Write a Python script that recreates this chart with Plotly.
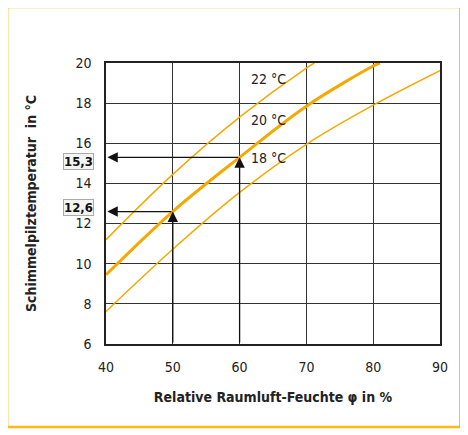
import plotly.graph_objects as go

# Relative Raumluft-Feuchte in %, Schimmelpilztemperatur in °C
feuchte_22 = [40, 50, 60, 70, 71.2]
temp_22 = [11.2, 14.45, 17.3, 19.75, 20.0]
feuchte_20 = [40, 50, 60, 70, 80, 81.0]
temp_20 = [9.45, 12.6, 15.3, 17.85, 19.85, 20.0]
feuchte_18 = [40, 50, 60, 70, 80, 90]
temp_18 = [7.62, 10.72, 13.55, 15.95, 17.9, 19.62]

kurven_namen = ["22 °C", "20 °C", "18 °C"]
kurven_label_y = [19.2, 17.17, 15.25]

beispiel_feuchte = [60, 50]
beispiel_temp = [15.3, 12.6]
beispiel_text = ["15,3", "12,6"]
beispiel_box_y = [15.08, 12.8]

x_ticks = [40, 50, 60, 70, 80, 90]
y_ticks = [6, 8, 10, 12, 14, 16, 18, 20]

orange = "#F6A800"
font_fam = "Liberation Sans Narrow, DejaVu Sans Condensed, sans-serif"

fig = go.Figure()
fig.add_trace(go.Scatter(x=feuchte_22, y=temp_22, mode="lines", line_shape="spline",
                         line=dict(color=orange, width=1.5)))
fig.add_trace(go.Scatter(x=feuchte_20, y=temp_20, mode="lines", line_shape="spline",
                         line=dict(color=orange, width=3)))
fig.add_trace(go.Scatter(x=feuchte_18, y=temp_18, mode="lines", line_shape="spline",
                         line=dict(color=orange, width=1.5)))

for name, yl in zip(kurven_namen, kurven_label_y):
    fig.add_annotation(x=61.4, y=yl, text=name, showarrow=False, xanchor="left",
                       font=dict(size=14, color="#222"))

for xf, yt, yb, txt in zip(beispiel_feuchte, beispiel_temp, beispiel_box_y, beispiel_text):
    # vertical arrow up from x axis
    fig.add_annotation(x=xf, y=yt, ax=xf, ay=6, xref="x", yref="y", axref="x", ayref="y",
                       text="", showarrow=True, arrowhead=2, arrowsize=1.6, arrowwidth=1.3,
                       arrowcolor="#111", standoff=0)
    # horizontal arrow left to y axis
    fig.add_annotation(x=40.2, y=yt, ax=xf, ay=yt, xref="x", yref="y", axref="x", ayref="y",
                       text="", showarrow=True, arrowhead=2, arrowsize=1.6, arrowwidth=1.3,
                       arrowcolor="#111", standoff=0)
    fig.add_annotation(x=-0.036, y=yb, xref="paper", yref="y", text="<b>" + txt + "</b>",
                       showarrow=False, xanchor="right", yanchor="middle",
                       bordercolor="#aaa", borderwidth=1, borderpad=0, bgcolor="#f4f4f4",
                       font=dict(size=13, color="#111"))

# orange frame
fig.add_shape(type="rect", xref="paper", yref="paper", x0=-0.296, x1=1.061, y0=-0.295, y1=1.199,
              line=dict(color="#FDB813", width=2.5), layer="below")

fig.update_layout(
    width=460, height=427,
    margin=dict(l=98, r=28, t=55, b=91),
    paper_bgcolor="white", plot_bgcolor="white",
    showlegend=False,
    font=dict(family=font_fam, size=14, color="#222"),
    xaxis=dict(range=[40, 90], tickvals=x_ticks, showgrid=True, gridcolor="#333", gridwidth=1,
               showline=True, linecolor="#222", linewidth=1.5, mirror=True, zeroline=False,
               ticks="", ticklabelstandoff=9,
               title=dict(text="<b>Relative Raumluft-Feuchte φ in %</b>", standoff=19,
                          font=dict(size=14))),
    yaxis=dict(range=[6, 20], tickvals=y_ticks, showgrid=True, gridcolor="#333", gridwidth=1,
               showline=True, linecolor="#222", linewidth=1.5, mirror=True, zeroline=False,
               ticks="", ticklabelstandoff=10,
               title=dict(text="<b>Schimmelpilztemperatur  in °C</b>", standoff=36,
                          font=dict(size=14))),
)

fig.write_html("out.html")
